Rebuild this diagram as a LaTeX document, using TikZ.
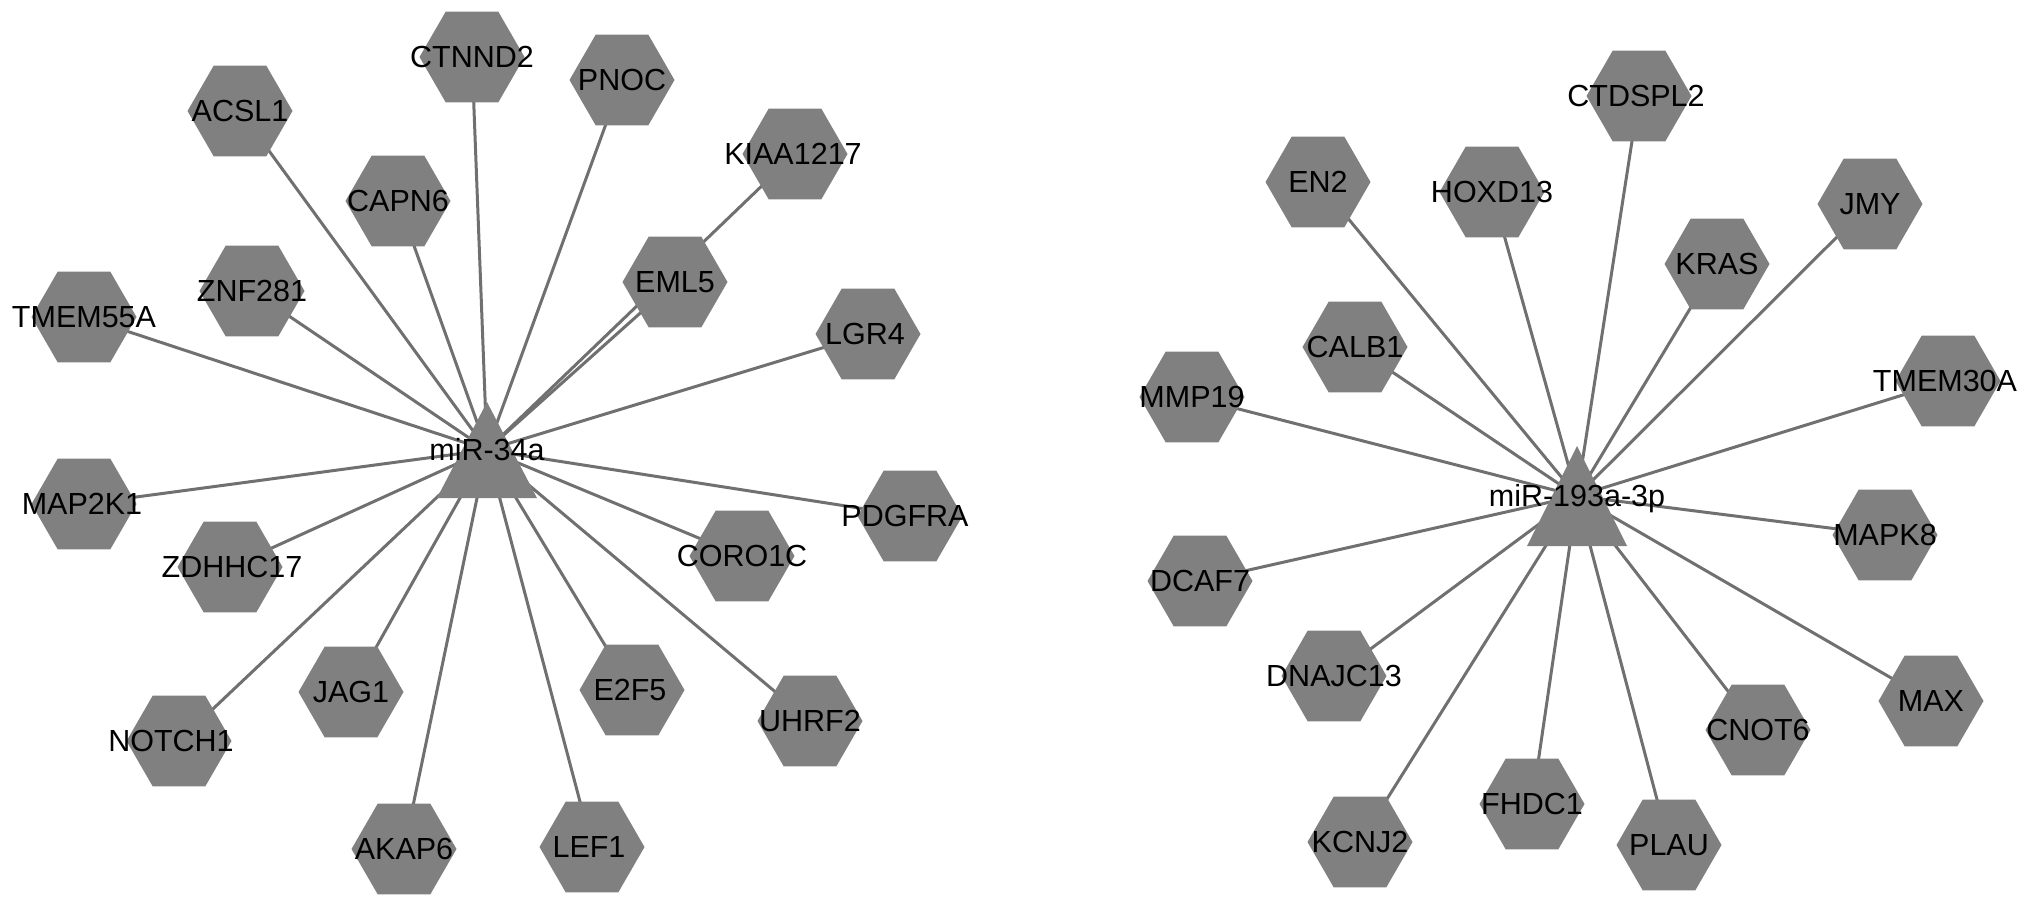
\documentclass[tikz,border=0pt]{standalone}
\usepackage{fontspec}
\setmainfont{Liberation Sans}
\usetikzlibrary{shapes.geometric,backgrounds,calc}
\definecolor{nodegray}{RGB}{128,128,128}
\definecolor{edgegray}{RGB}{112,112,112}
\begin{document}
\begin{tikzpicture}[x=1pt,y=-1pt,
  gene/.style={regular polygon, regular polygon sides=6, minimum size=105pt,
               inner sep=0pt, fill=nodegray, draw=none},
  lbl/.style={font=\fontsize{30.5}{31}\selectfont, text height=21.8pt,
              text depth=0pt, inner sep=0pt, text=black},
  edge/.style={draw=edgegray, line width=3pt},
  mirtri/.style={fill=nodegray}]
\useasboundingbox (0,0) rectangle (2032,907);

% ---------- left network ----------
\foreach \id/\x/\y/\t/\dx in {
  ctnnd2/472/57/CTNND2/0, pnoc/622/80/PNOC/0, acsl1/240/111/ACSL1/0,
  kiaa/795/154/KIAA1217/-2, capn6/398/201/CAPN6/0, eml5/675/282/EML5/0,
  znf281/252/291/ZNF281/0, tmem55a/84/317/TMEM55A/0, lgr4/868/334/LGR4/-3,
  map2k1/84/504/MAP2K1/-2, pdgfra/910/516/PDGFRA/-5, zdhhc17/230/567/ZDHHC17/2,
  coro1c/742/556/CORO1C/0, jag1/351/692/JAG1/0, e2f5/632/690/E2F5/-2,
  uhrf2/810/721/UHRF2/0, notch1/179/741/NOTCH1/-8, akap6/404/849/AKAP6/0,
  lef1/592/847/LEF1/-3}
{
  \node[gene] (\id) at (\x,\y) {};
  \node[lbl] (\id-t) at ($(\id.center)+(\dx,0)$) {\t};
}
\node[lbl] (m1) at (487,450) {miR-34a};

% ---------- right network ----------
\foreach \id/\x/\y/\t/\dx in {
  ctdspl2/1639/96/CTDSPL2/-3, en2/1318/182/EN2/0, hoxd13/1492/192/HOXD13/0,
  jmy/1870/204/JMY/0, kras/1717/264/KRAS/0, calb1/1355/347/CALB1/0,
  mmp19/1192/397/MMP19/0, tmem30a/1948/381/TMEM30A/-3, mapk8/1885/535/MAPK8/0,
  dcaf7/1200/581/DCAF7/0, dnajc13/1334/676/DNAJC13/0, cnot6/1758/730/CNOT6/0,
  max/1931/701/MAX/0, kcnj2/1360/842/KCNJ2/0, fhdc1/1532/804/FHDC1/0,
  plau/1669/845/PLAU/0}
{
  \node[gene] (\id) at (\x,\y) {};
  \node[lbl] (\id-t) at ($(\id.center)+(\dx,0)$) {\t};
}
\node[lbl] (m2) at (1577,496) {miR-193a-3p};

% ---------- edges and miRNA triangles (behind nodes and text) ----------
\begin{scope}[on background layer]
  \foreach \id in {ctnnd2,pnoc,acsl1,kiaa,capn6,eml5,znf281,tmem55a,lgr4,
                   map2k1,pdgfra,zdhhc17,coro1c,jag1,e2f5,uhrf2,notch1,akap6,lef1}
    \draw[edge] (\id.center) -- (m1.center);
  \foreach \id in {ctdspl2,en2,hoxd13,jmy,kras,calb1,mmp19,tmem30a,mapk8,
                   dcaf7,dnajc13,cnot6,max,kcnj2,fhdc1,plau}
    \draw[edge] (\id.center) -- (m2.center);
  \fill[mirtri] ($(m1.center)+(0,-48)$) -- ($(m1.center)+(-50,48)$) -- ($(m1.center)+(50,48)$) -- cycle;
  \fill[mirtri] ($(m2.center)+(0,-50)$) -- ($(m2.center)+(-50,50)$) -- ($(m2.center)+(50,50)$) -- cycle;
\end{scope}
\end{tikzpicture}
\end{document}
